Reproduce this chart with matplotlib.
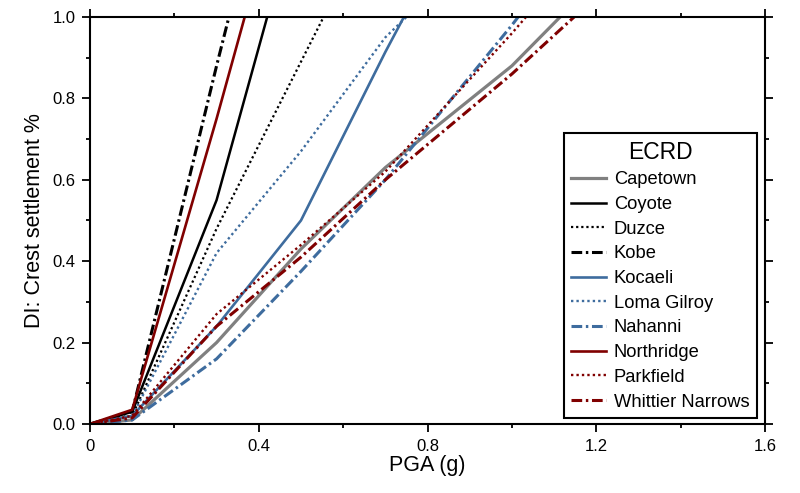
import numpy as np
import matplotlib
matplotlib.use("Agg")
import matplotlib.pyplot as plt
from matplotlib.ticker import MultipleLocator, FormatStrFormatter

plt.rcParams['font.family'] = ['Liberation Sans', 'DejaVu Sans']

# PGA (g) and DI crest settlement (%) per record
pga = [0.0, 0.1, 0.3, 0.5, 0.7, 1.0, 1.2]

capetown = [0.0, 0.010, 0.20, 0.43, 0.63, 0.88, 1.09]
coyote = [0.0, 0.030, 0.55, 1.30, 2.05, 3.0, 3.6]
duzce = [0.0, 0.020, 0.48, 0.89, 1.30, 1.9, 2.3]
kobe = [0.0, 0.030, 0.88, 1.70, 2.50, 3.6, 4.3]
kocaeli = [0.0, 0.020, 0.24, 0.50, 0.914, 1.5, 1.9]
loma_gilroy = [0.0, 0.020, 0.42, 0.67, 0.95, 1.25, 1.5]
nahanni = [0.0, 0.010, 0.16, 0.375, 0.60, 0.98, 1.25]
northridge = [0.0, 0.035, 0.75, 1.50, 2.30, 3.4, 4.1]
parkfield = [0.0, 0.020, 0.27, 0.44, 0.62, 0.96, 1.2]
whittier = [0.0, 0.015, 0.24, 0.41, 0.60, 0.86, 1.05]

gray = '#808080'
blue = '#3e6c9e'
red = '#800000'
dot = (0, (1, 1.3))
dashdot = (0, (3.5, 1.2, 0.8, 1.2))

fig = plt.figure(figsize=(8, 4.93), dpi=100)
ax = fig.add_axes([0.1125, 0.14, 0.8438, 0.8255])

ax.plot(pga, capetown, color=gray, lw=2.3, label='Capetown')
ax.plot(pga, coyote, color='black', lw=1.8, label='Coyote')
ax.plot(pga, duzce, color='black', lw=1.6, ls=dot, label='Duzce')
ax.plot(pga, kobe, color='black', lw=2.2, ls=dashdot, label='Kobe')
ax.plot(pga, kocaeli, color=blue, lw=1.9, label='Kocaeli')
ax.plot(pga, loma_gilroy, color=blue, lw=1.7, ls=dot, label='Loma Gilroy')
ax.plot(pga, nahanni, color=blue, lw=2.2, ls=dashdot, label='Nahanni')
ax.plot(pga, northridge, color=red, lw=1.9, label='Northridge')
ax.plot(pga, parkfield, color=red, lw=1.7, ls=dot, label='Parkfield')
ax.plot(pga, whittier, color=red, lw=2.2, ls=dashdot, label='Whittier Narrows')

ax.set_xlim(0, 1.6)
ax.set_ylim(0, 1.0)
ax.xaxis.set_major_locator(MultipleLocator(0.4))
ax.xaxis.set_minor_locator(MultipleLocator(0.2))
ax.yaxis.set_major_locator(MultipleLocator(0.2))
ax.yaxis.set_minor_locator(MultipleLocator(0.1))
ax.yaxis.set_major_formatter(FormatStrFormatter('%.1f'))
ax.set_xticks([0, 0.4, 0.8, 1.2, 1.6])
ax.set_xticklabels(['0', '0.4', '0.8', '1.2', '1.6'])

for s in ax.spines.values():
    s.set_linewidth(1.5)
ax.tick_params(which='both', direction='out', top=True, right=True,
               width=1.3, labelsize=12, pad=5)
ax.tick_params(which='major', length=5.5)
ax.tick_params(which='minor', length=3)

ax.set_xlabel('PGA (g)', fontsize=15.5, labelpad=1)
ax.set_ylabel('DI: Crest settlement %', fontsize=15.5, labelpad=5)

leg = ax.legend(title='ECRD', loc='lower right', bbox_to_anchor=(0.988, 0.015),
                borderaxespad=0, fontsize=13.2, title_fontsize=16.5,
                fancybox=False, edgecolor='black', framealpha=1,
                handlelength=1.9, handletextpad=0.42, labelspacing=0.42,
                borderpad=0.4)
leg.get_frame().set_linewidth(1.5)

fig.savefig('out.png', dpi=100)
